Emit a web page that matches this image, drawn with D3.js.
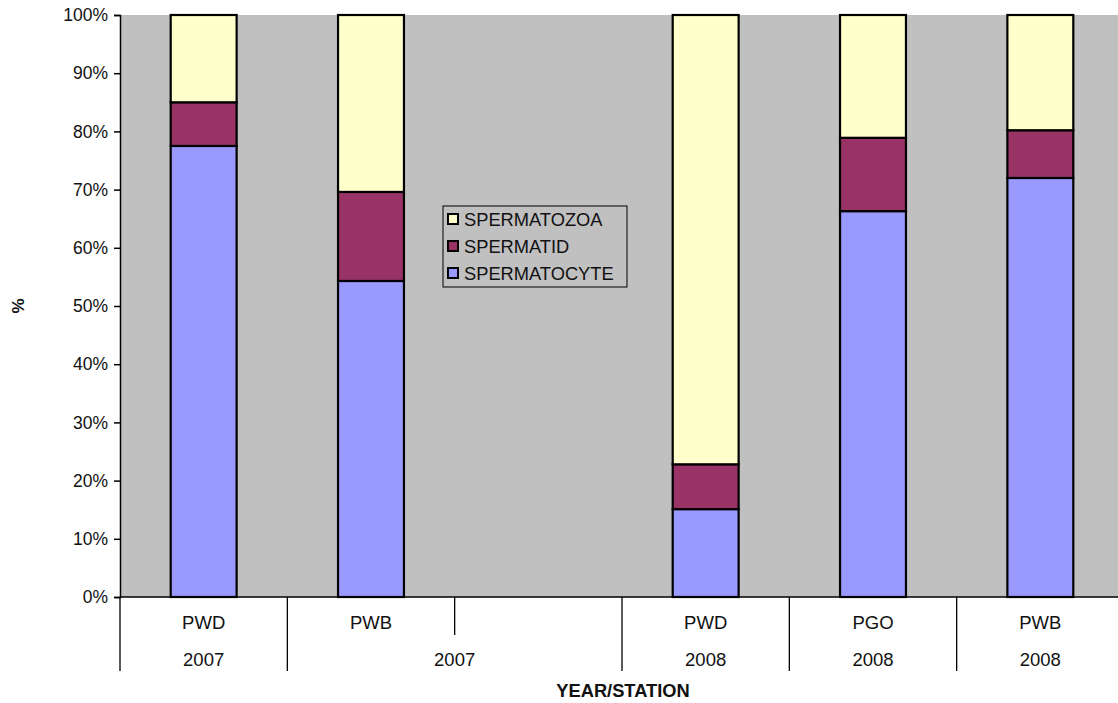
<!DOCTYPE html>
<html><head><meta charset="utf-8">
<script src="https://cdn.jsdelivr.net/npm/d3@7"></script>
<style>body{margin:0;background:#fff}svg{display:block}text{font-family:"Liberation Sans",Arial,sans-serif;fill:#111}</style>
</head><body><svg id="c" width="1118" height="703"></svg>
<script>
const stations = ["PWD","PWB","","PWD","PGO","PWB"];
const yearLabels = ["2007","2007","2008","2008","2008"];
const yearSpans = [1,2,1,1,1];
const spermatocyte = [77.5, 54.3, null, 15.1, 66.3, 72.0];
const spermatid = [7.5, 15.3, null, 7.7, 12.6, 8.2];
const spermatozoa = [15.0, 30.4, null, 77.2, 21.1, 19.8];
const seriesNames = ["SPERMATOCYTE","SPERMATID","SPERMATOZOA"];
const seriesColors = ["#9999ff","#993366","#ffffcc"];
const yTicks = [0,10,20,30,40,50,60,70,80,90,100];

const svg = d3.select("#c");
const L = 120, R = 1124, T = 15, B = 597;
const idx = stations.map((d,i)=>i);
const x = d3.scaleBand().domain(idx).range([L,R]).paddingInner(0.606).paddingOuter(0.303);
const y = d3.scaleLinear().domain([0,100]).range([B,T]);
const step = x.step();

svg.append("rect").attr("x",L).attr("y",T).attr("width",R-L).attr("height",B-T).attr("fill","#c0c0c0");

const table = idx.map(i => ({i, SPERMATOCYTE: spermatocyte[i]||0, SPERMATID: spermatid[i]||0, SPERMATOZOA: spermatozoa[i]||0, empty: spermatocyte[i]==null}));
const stack = d3.stack().keys(seriesNames)(table);
stack.forEach((s,k)=>{
  svg.append("g").selectAll("rect").data(s.filter(d=>!d.data.empty)).join("rect")
    .attr("x",d=>x(d.data.i)).attr("width",x.bandwidth())
    .attr("y",d=>y(d[1])).attr("height",d=>y(d[0])-y(d[1]))
    .attr("fill",seriesColors[k]).attr("stroke","#000").attr("stroke-width",2.2);
});

// y axis
const ya = svg.append("g").attr("transform",`translate(${L},0)`)
  .call(d3.axisLeft(y).tickValues(yTicks).tickFormat(d=>d+"%").tickSize(6).tickPadding(6));
ya.select(".domain").attr("stroke","#000").attr("stroke-width",1.5);
ya.selectAll(".tick line").attr("stroke","#000").attr("stroke-width",1.5);
ya.selectAll(".tick text").attr("font-size",17.5).attr("font-family","Liberation Sans, Arial").attr("fill","#111");

// x axis
svg.append("line").attr("x1",L).attr("x2",R).attr("y1",B).attr("y2",B).attr("stroke","#000").attr("stroke-width",1.5);
svg.append("g").selectAll("text").data(idx).join("text")
  .attr("x",i=>x(i)+x.bandwidth()/2).attr("y",629).attr("text-anchor","middle").attr("font-size",18.5)
  .text(i=>stations[i]);
const starts = [0]; yearSpans.forEach((s,k)=>starts.push(starts[k]+s));
const boundaries = idx.concat([idx.length]);
svg.append("g").selectAll("line").data(boundaries).join("line")
  .attr("x1",i=>L+i*step).attr("x2",i=>L+i*step).attr("y1",B)
  .attr("y2",i=>starts.includes(i)?671:635).attr("stroke","#000").attr("stroke-width",1.3);
svg.append("g").selectAll("text").data(yearLabels).join("text")
  .attr("x",(d,k)=>L+(starts[k]+yearSpans[k]/2)*step).attr("y",666).attr("text-anchor","middle").attr("font-size",18.5)
  .text(d=>d);

svg.append("text").attr("x",623).attr("y",697).attr("text-anchor","middle").attr("font-size",18.3).attr("font-weight","bold").text("YEAR/STATION");
svg.append("text").attr("transform","translate(24,306) rotate(-90)").attr("text-anchor","middle").attr("font-size",17).attr("font-weight","bold").text("%");

// legend
const lg = svg.append("g").attr("transform","translate(443,206)");
lg.append("rect").attr("width",184).attr("height",81).attr("fill","none").attr("stroke","#000").attr("stroke-width",1);
const legOrder = [2,1,0];
legOrder.forEach((k,r)=>{
  const yy = 14 + r*27;
  lg.append("rect").attr("x",5).attr("y",yy-6).attr("width",10).attr("height",10).attr("fill",seriesColors[k]).attr("stroke","#000").attr("stroke-width",2);
  lg.append("text").attr("x",21).attr("y",yy+6).attr("font-size",18.3).text(seriesNames[k]);
});
</script></body></html>
